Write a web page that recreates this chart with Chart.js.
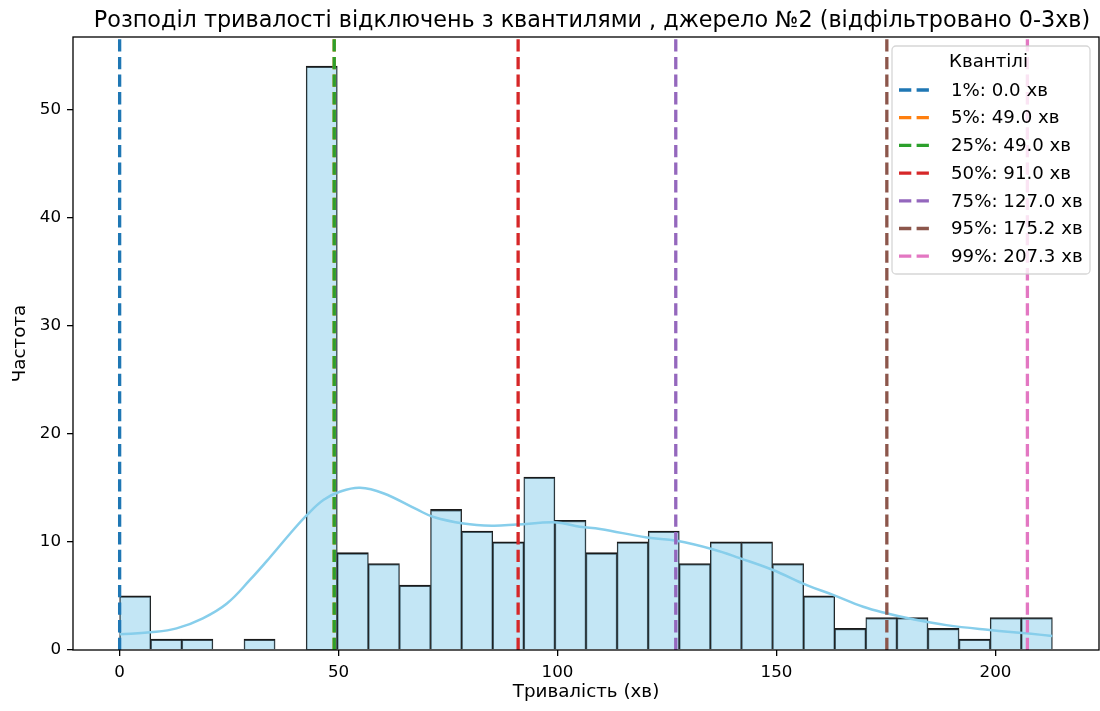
<!DOCTYPE html>
<html>
<head>
<meta charset="utf-8">
<script src="https://cdn.jsdelivr.net/npm/chart.js@4.4.1/dist/chart.umd.min.js"></script>
<style>
  html, body { margin: 0; padding: 0; background: #fff; }
  canvas { display: block; }
</style>
</head>
<body>
<canvas id="chart" width="1100" height="711"></canvas>
<script>
// Histogram of outage durations (minutes), 30 equal bins over [HIST_MIN, HIST_MAX]
const HIST_MIN = 0;
const HIST_MAX = 213;
const COUNTS = [5, 1, 1, 0, 1, 0, 54, 9, 8, 6, 13, 11, 10, 16, 12, 9, 10, 11, 8, 10, 10, 8, 5, 2, 3, 3, 2, 1, 3, 3];

// Density curve, scaled to counts
const KDE_X = [0, 7, 13, 19, 24.5, 29.8, 34.4, 39, 42.8, 46.6, 50.4, 54.9, 60.2, 67.9, 71.7, 78.5, 85, 90.7, 99.8, 105.1, 109.7, 120.4, 127.2, 135.6, 141.6, 149.2, 156.9, 162.9, 169.8, 175.1, 181.2, 188.8, 198.7, 207.1, 213];
const KDE_Y = [1.45, 1.64, 2.0, 2.93, 4.3, 6.5, 8.6, 10.8, 12.5, 13.9, 14.66, 15.0, 14.5, 13.0, 12.3, 11.7, 11.5, 11.6, 11.8, 11.4, 11.2, 10.4, 10.1, 9.3, 8.5, 7.4, 6.0, 5.1, 4.0, 3.4, 2.84, 2.3, 1.85, 1.54, 1.3];

// Quantiles
const QUANT_P = [1, 5, 25, 50, 75, 95, 99];
const QUANT_V = [0.0, 49.0, 49.0, 91.0, 127.0, 175.2, 207.3];
const QUANT_COLORS = ['#1f77b4', '#ff7f0e', '#2ca02c', '#d62728', '#9467bd', '#8c564b', '#e377c2'];

// Axes
const X_TICKS = [0, 50, 100, 150, 200];
const Y_TICKS = [0, 10, 20, 30, 40, 50];
const X_MIN = -10.65, X_MAX = 223.65;
const Y_MIN = 0, Y_MAX = 56.7;

const TITLE = 'Розподіл тривалості відключень з квантилями , джерело №2 (відфільтровано 0-3хв)';
const X_LABEL = 'Тривалість (хв)';
const Y_LABEL = 'Частота';
const LEGEND_TITLE = 'Квантілі';

const FONT = '"DejaVu Sans", sans-serif';
const DASH = [12.3, 5.3];

const binWidth = (HIST_MAX - HIST_MIN) / COUNTS.length;
const histData = COUNTS.map((c, i) => ({ x: HIST_MIN + (i + 0.5) * binWidth, y: c }));
const kdeData = KDE_X.map((x, i) => ({ x: x, y: KDE_Y[i] }));

const datasets = [
  {
    type: 'bar',
    label: 'hist',
    data: histData,
    backgroundColor: 'rgba(135,206,235,0.5)',
    borderColor: '#1a1a1a',
    borderWidth: { top: 1.6, left: 0.9, right: 0.9, bottom: 0 },
    borderSkipped: false,
    barPercentage: 1,
    categoryPercentage: 1,
    order: 100
  },
  {
    type: 'line',
    label: 'kde',
    data: kdeData,
    borderColor: '#87ceeb',
    borderWidth: 2.5,
    pointRadius: 0,
    tension: 0.4,
    fill: false,
    order: 50
  }
];

QUANT_P.forEach((p, i) => {
  datasets.push({
    type: 'line',
    label: p + '%: ' + QUANT_V[i].toFixed(1) + ' хв',
    data: [{ x: QUANT_V[i], y: Y_MIN }, { x: QUANT_V[i], y: Y_MAX }],
    borderColor: QUANT_COLORS[i],
    borderWidth: 3.3,
    borderDash: DASH,
    borderCapStyle: 'butt',
    pointRadius: 0,
    fill: false,
    order: -i
  });
});

// Title over the plotting area
const titlePlugin = {
  id: 'plotTitle',
  afterDraw(chart) {
    const { ctx, chartArea } = chart;
    ctx.save();
    ctx.font = '22.3px ' + FONT;
    ctx.fillStyle = '#000';
    ctx.textAlign = 'center';
    ctx.textBaseline = 'alphabetic';
    ctx.fillText(TITLE, (chartArea.left + chartArea.right) / 2 + 6, 27);
    ctx.restore();
  }
};

// Frame around the plotting area
const framePlugin = {
  id: 'frame',
  afterDatasetsDraw(chart) {
    const { ctx, chartArea: a } = chart;
    ctx.save();
    ctx.strokeStyle = '#000';
    ctx.lineWidth = 1.3;
    ctx.strokeRect(a.left, a.top, a.right - a.left, a.bottom - a.top);
    ctx.restore();
  }
};

// Quantile legend box in the upper right corner
const legendPlugin = {
  id: 'quantLegend',
  afterDraw(chart) {
    const { ctx } = chart;
    const x0 = 892, y0 = 46, w = 198, h = 228, r = 4;
    ctx.save();
    ctx.beginPath();
    ctx.moveTo(x0 + r, y0);
    ctx.arcTo(x0 + w, y0, x0 + w, y0 + h, r);
    ctx.arcTo(x0 + w, y0 + h, x0, y0 + h, r);
    ctx.arcTo(x0, y0 + h, x0, y0, r);
    ctx.arcTo(x0, y0, x0 + w, y0, r);
    ctx.closePath();
    ctx.fillStyle = 'rgba(255,255,255,0.8)';
    ctx.fill();
    ctx.strokeStyle = 'rgba(204,204,204,0.8)';
    ctx.lineWidth = 1.3;
    ctx.stroke();

    ctx.font = '18.2px ' + FONT;
    ctx.fillStyle = '#000';
    ctx.textBaseline = 'middle';
    ctx.textAlign = 'center';
    ctx.fillText(LEGEND_TITLE, 988.5, 62);
    ctx.textAlign = 'left';
    const entries = datasets.slice(2);
    entries.forEach((ds, i) => {
      const yy = 90 + i * 27.7;
      ctx.beginPath();
      ctx.setLineDash(DASH);
      ctx.lineWidth = 3.3;
      ctx.strokeStyle = ds.borderColor;
      ctx.moveTo(899, yy);
      ctx.lineTo(932.5, yy);
      ctx.stroke();
      ctx.setLineDash([]);
      ctx.fillText(ds.label, 951, yy + 1);
    });
    ctx.restore();
  }
};

new Chart(document.getElementById('chart'), {
  type: 'bar',
  data: { datasets },
  plugins: [titlePlugin, framePlugin, legendPlugin],
  options: {
    responsive: false,
    animation: false,
    devicePixelRatio: 1,
    layout: { padding: { top: 37, right: 1, left: 0, bottom: 0 } },
    plugins: {
      legend: { display: false },
      title: { display: false },
      tooltip: { enabled: false }
    },
    scales: {
      x: {
        type: 'linear',
        min: X_MIN,
        max: X_MAX,
        offset: false,
        grid: { display: true, drawOnChartArea: false, drawTicks: true, tickLength: 6, color: '#000', lineWidth: 1.3, offset: false },
        border: { display: false },
        ticks: { includeBounds: false, color: '#000', font: { family: FONT, size: 16.7 }, padding: 7, maxRotation: 0 },
        afterBuildTicks(scale) { scale.ticks = X_TICKS.map(v => ({ value: v })); },
        afterFit(scale) { scale.height = 61; },
        title: { display: true, text: X_LABEL, color: '#000', font: { family: FONT, size: 18.3 }, padding: { top: 0, bottom: 8 } }
      },
      y: {
        type: 'linear',
        min: Y_MIN,
        max: Y_MAX,
        grid: { display: true, drawOnChartArea: false, drawTicks: true, tickLength: 6, color: '#000', lineWidth: 1.3 },
        border: { display: false },
        ticks: { includeBounds: false, color: '#000', font: { family: FONT, size: 16.7 }, padding: 6 },
        afterBuildTicks(scale) { scale.ticks = Y_TICKS.map(v => ({ value: v })); },
        afterFit(scale) { scale.width = 73; },
        title: { display: true, text: Y_LABEL, color: '#000', font: { family: FONT, size: 18.3 }, padding: { top: 9, bottom: 0 } }
      }
    }
  }
});
</script>
</body>
</html>
